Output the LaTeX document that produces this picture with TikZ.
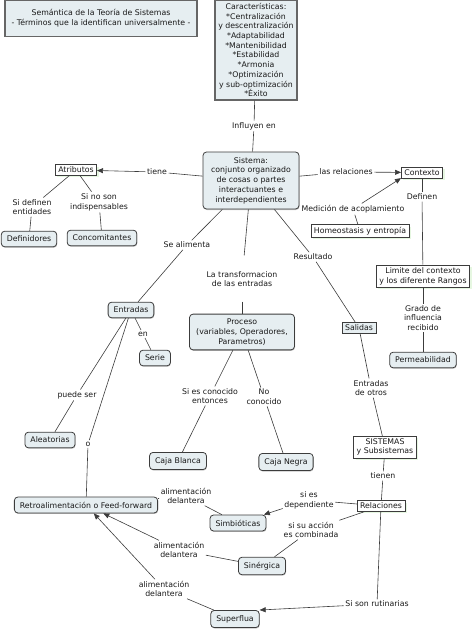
\documentclass[tikz,border=0pt]{standalone}
\usepackage{fontspec}
\setmainfont{DejaVu Sans}
\usetikzlibrary{arrows.meta, shadows}
\definecolor{mapfill}{HTML}{E6EEF1}
\definecolor{mapline}{HTML}{3C3C3C}
\definecolor{mapglow}{HTML}{CDEFC4}
\definecolor{mapshade}{HTML}{A0A0A0}

\begin{document}
\begin{tikzpicture}[
    x=1pt, y=-1pt,
    every node/.style={font=\fontsize{7.8}{9.7}\selectfont, align=center, text=black!90},
    concept/.style={rectangle, rounded corners=3.5pt, draw=mapline, line width=0.8pt, fill=mapfill, inner xsep=5.5pt, inner ysep=4.8pt,
        drop shadow={shadow xshift=0.5pt, shadow yshift=-1pt, fill=mapshade, opacity=0.6}},
    framedbox/.style={rectangle, draw=mapline, line width=0.6pt, fill=white, inner xsep=3pt, inner ysep=2.4pt},
    framed/.style={framedbox, drop shadow={shadow xshift=2pt, shadow yshift=-2pt, fill=mapglow}},
    heading/.style={rectangle, draw=black!60, line width=1.2pt, fill=mapfill, inner sep=3pt},
    linking/.style={inner sep=1.5pt},
    conn/.style={draw=mapline, line width=0.6pt},
    arr/.style={conn, -{Triangle[length=6pt, width=5pt]}},
]
\useasboundingbox (0,0) rectangle (474,629);

% ─── Headings ───
\node[heading, minimum width=192pt, minimum height=36pt] (titulo) at (101,18.5) {Semántica de la Teoría de Sistemas\\- Términos que la identifican universalmente -};
\node[heading, minimum width=82pt, minimum height=100pt] (caracteristicas) at (256,50) {Características:\\*Centralización\\y descentralización\\*Adaptabilidad\\*Mantenibilidad\\*Estabilidad\\*Armonia\\*Optimización\\y sub-optimización\\*Éxito};
\node[linking] (influyen) at (254,126) {Influyen en};

% ─── Central concept ───
\node[concept, minimum width=96pt, minimum height=57pt] (sistema) at (251,180.5) {Sistema:\\conjunto organizado\\de cosas o partes\\interactuantes e\\interdependientes};

% ─── Atributos ───
\node[framed] (atributos) at (76,170) {Atributos};
\node[linking] (tiene) at (157,172) {tiene};
\node[linking] (definen) at (32,207) {Si definen\\entidades};
\node[concept] (definidores) at (29,239) {Definidores};
\node[linking] (nosonindisp) at (99,202) {Si no son\\indispensables};
\node[concept] (concomitantes) at (102,238) {Concomitantes};

% ─── Contexto ───
\node[linking] (lasrelaciones) at (346,172) {las relaciones};
\node[framed] (contexto) at (422,172.5) {Contexto};
\node[linking] (medicion) at (353,209) {Medición de acoplamiento};
\node[framed] (homeostasis) at (360,231) {Homeostasis y entropía};
\node[linking] (definenctx) at (422,197) {Definen};
\node[framed] (limite) at (423,276) {Limite del contexto\\y los diferente Rangos};
\node[linking] (grado) at (423,318) {Grado de\\influencia\\recibido};
\node[concept] (permeabilidad) at (423,360) {Permeabilidad};

% ─── Entradas / Proceso / Salidas ───
\node[linking] (sealimenta) at (187,245) {Se alimenta};
\node[linking] (transformacion) at (242,279) {La transformacion\\de las entradas};
\node[linking] (resultado) at (313,257) {Resultado};
\node[concept] (entradas) at (131,310) {Entradas};
\node[concept, minimum width=105pt] (proceso) at (242,332) {Proceso\\(variables, Operadores,\\Parametros)};
\node[framedbox, fill=mapfill] (salidas) at (359,328) {Salidas};

% ─── Entradas branch ───
\node[linking] (en) at (143,334) {en};
\node[concept] (serie) at (155,358) {Serie};
\node[linking] (puedeser) at (77,395) {puede ser};
\node[concept] (aleatorias) at (50,440) {Aleatorias};
\node[linking] (o) at (88,444) {o};
\node[concept] (retro) at (86,505) {Retroalimentación o Feed-forward};

% ─── Proceso branch ───
\node[linking] (conocido) at (210,396) {Si es conocido\\entonces};
\node[concept] (cajablanca) at (178,461) {Caja Blanca};
\node[linking] (noconocido) at (264,397) {No\\conocido};
\node[concept] (cajanegra) at (286,462) {Caja Negra};

% ─── Salidas branch ───
\node[linking] (otros) at (371,388) {Entradas\\de otros};
\node[framed] (sistemas) at (385,447) {SISTEMAS\\y Subsistemas};
\node[linking] (tienen) at (383,476) {tienen};
\node[framed] (relaciones) at (381,506) {Relaciones};
\node[linking] (dependiente) at (309,500) {si es\\dependiente};
\node[concept] (simbioticas) at (238,523) {Simbióticas};
\node[linking] (combinada) at (311,530) {si su acción\\es combinada};
\node[concept] (sinergica) at (262,566) {Sinérgica};
\node[linking] (rutinarias) at (377,604) {Si son rutinarias};
\node[concept] (superflua) at (235,619) {Superflua};

% ─── Alimentación delantera ───
\node[linking] (delantera1) at (186,496) {alimentación\\delantera};
\node[linking] (delantera2) at (179,550) {alimentación\\delantera};
\node[linking] (delantera3) at (164,589) {alimentación\\delantera};

% ─── Connectors ───
\draw[conn] (caracteristicas) -- (influyen);
\draw[conn] (influyen) -- (sistema);
\draw[conn] (sistema) -- (tiene);
\draw[arr] (tiene) -- (atributos);
\draw[conn] (atributos) -- (definen);
\draw[conn] (definen) -- (definidores);
\draw[conn] (atributos) -- (nosonindisp);
\draw[conn] (nosonindisp) -- (concomitantes);
\draw[conn] (sistema) -- (lasrelaciones);
\draw[arr] (lasrelaciones) -- (contexto);
\draw[conn] (homeostasis) -- (medicion);
\draw[arr] (medicion) -- (contexto.south west);
\draw[conn] (contexto) -- (definenctx);
\draw[conn] (definenctx) -- (limite);
\draw[conn] (limite) -- (grado);
\draw[conn] (grado) -- (permeabilidad);

\draw[conn] (sistema) -- (sealimenta);
\draw[conn] (sealimenta) -- (entradas);
\draw[conn, shorten >=14pt] (sistema) -- (transformacion);
\draw[conn, shorten <=13pt] (transformacion) -- (proceso);
\draw[conn] (sistema) -- (resultado);
\draw[conn] (resultado) -- (salidas);

\draw[conn] (entradas) -- (en);
\draw[conn] (en) -- (serie);
\draw[conn] (entradas) -- (puedeser);
\draw[conn] (puedeser) -- (aleatorias);
\draw[conn] (entradas) -- (o);
\draw[conn] (o) -- (retro);

\draw[conn] (proceso) -- (conocido);
\draw[conn] (conocido) -- (cajablanca);
\draw[conn] (proceso) -- (noconocido);
\draw[conn] (noconocido) -- (cajanegra);

\draw[conn] (salidas) -- (otros);
\draw[conn] (otros) -- (sistemas);
\draw[conn] (sistemas) -- (tienen);
\draw[conn] (tienen) -- (relaciones);
\draw[conn] (relaciones) -- (dependiente);
\draw[arr] (dependiente) -- (simbioticas);
\draw[conn] (relaciones) -- (combinada);
\draw[conn] (combinada) -- (sinergica);
\draw[conn] (relaciones) -- (rutinarias);
\draw[arr] (rutinarias) -- (superflua.north east);

\draw[conn] (simbioticas) -- (delantera1);
\draw[conn] (delantera1) -- (retro);
\draw[conn] (sinergica) -- (delantera2);
\draw[arr] (delantera2) -- (retro);
\draw[conn] (superflua) -- (delantera3);
\draw[arr] (delantera3) -- (retro);

\end{tikzpicture}
\end{document}
